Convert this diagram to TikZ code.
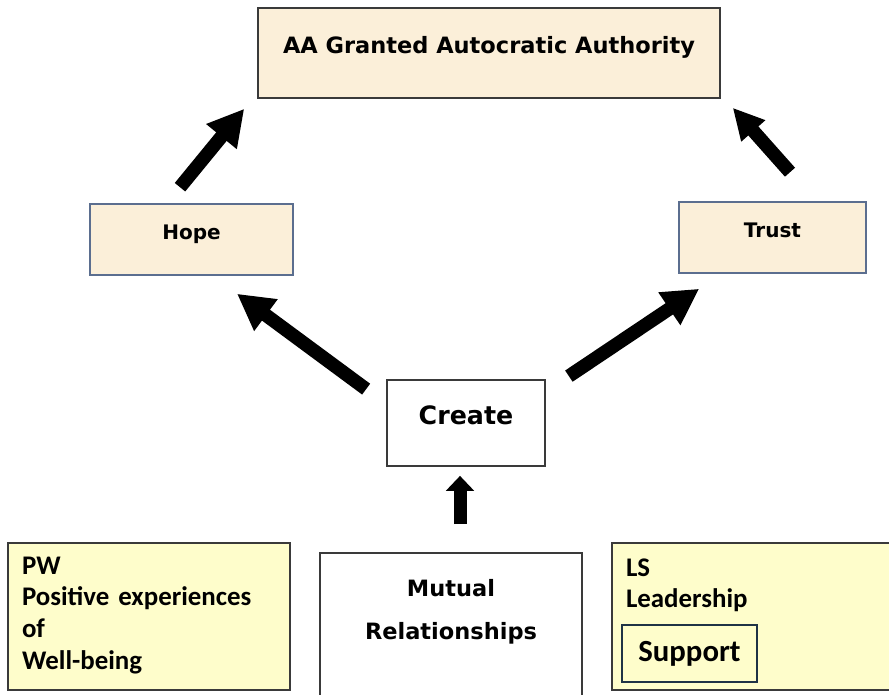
\documentclass[tikz,border=0pt]{standalone}
\usepackage{fontspec}
\setmainfont{Carlito}
\newfontfamily\blockfont{DejaVu Sans}
\usetikzlibrary{arrows.meta}
\definecolor{parch}{HTML}{FBEFD9}
\definecolor{paleyel}{HTML}{FEFDCB}
\definecolor{slateedge}{HTML}{5B6E8F}
\definecolor{darkedge}{HTML}{3A3A3A}
\definecolor{supedge}{HTML}{1F3345}

\begin{document}
\begin{tikzpicture}[x=0.02cm,y=-0.02cm,
  parchbox/.style={draw=darkedge,line width=0.9pt,fill=parch,inner sep=0pt},
  yelbox/.style={draw=darkedge,line width=0.9pt,fill=paleyel,inner ysep=0pt,inner xsep=0.28cm,
    align=left,font=\bfseries\fontsize{15.3}{18.1}\selectfont},
  fat/.style={line width=0.27cm,-{Triangle[length=0.72cm,width=0.74cm]}}]
  \useasboundingbox (0,0) rectangle (889,695);

  %top: authority
  \node[parchbox,minimum width=9.24cm,text height=0.92cm,text depth=0.88cm,
    font=\blockfont\bfseries\fontsize{12.8}{15}\selectfont] (aa) at (489,53)
    {AA Granted Autocratic Authority};

  %middle row
  \node[parchbox,draw=slateedge,minimum width=4.06cm,text height=0.72cm,text depth=0.70cm,
    font=\blockfont\bfseries\fontsize{11.4}{14}\selectfont] (hope) at (191.5,239.5) {Hope};
  \node[parchbox,draw=slateedge,minimum width=3.74cm,text height=0.72cm,text depth=0.70cm,
    font=\blockfont\bfseries\fontsize{11.4}{14}\selectfont] (trust) at (772.5,237.5) {Trust};
  \node[draw=darkedge,line width=1pt,fill=white,inner sep=0pt,minimum width=3.16cm,
    text height=0.9cm,text depth=0.82cm,
    font=\blockfont\bfseries\fontsize{14.4}{17}\selectfont] (create) at (466,423) {Create};

  %bottom row
  \node[draw=darkedge,line width=1pt,fill=white,inner sep=0pt,minimum width=5.24cm,
    text height=1.74cm,text depth=1.2cm,align=center,
    font=\blockfont\bfseries\fontsize{12.8}{25}\selectfont] (mutual) at (451,626.5)
    {Mutual\\Relationships};
  \node[yelbox,text width=5.08cm,text height=0.62cm,text depth=2.32cm] (pw) at (149,616.5)
    {PW\\Positive experiences\\of\\Well-being};
  \node[yelbox,text width=5.1cm,text height=0.66cm,text depth=2.28cm] (ls) at (753.5,616.5)
    {LS\\Leadership};
  \node[draw=supedge,line width=1.2pt,inner sep=0pt,minimum width=2.7cm,minimum height=1.14cm,
    font=\bfseries\fontsize{17.5}{20}\selectfont] (sup) at (689.5,653.5) {Support};

  %arrows
  \draw[fat] ([shift={(-11.5,-16)}]hope.north) -- ([shift={(-13,10)}]aa.south west);
  \draw[fat,-{Triangle[length=0.62cm,width=0.6cm]}] ([shift={(17.5,-29)}]trust.north)
    -- ([shift={(12,9)}]aa.south east);
  \draw[fat] ([shift={(-20,10)}]create.north west) -- ([shift={(45.5,18)}]hope.south);
  \draw[fat] ([shift={(23,-3)}]create.north east) -- ([shift={(21,15)}]trust.south west);
  \draw[fat,line width=0.26cm,-{Triangle[length=0.3cm,width=0.55cm]}]
    ([shift={(9,-28)}]mutual.north) -- ([shift={(-6,9)}]create.south);
\end{tikzpicture}
\end{document}
